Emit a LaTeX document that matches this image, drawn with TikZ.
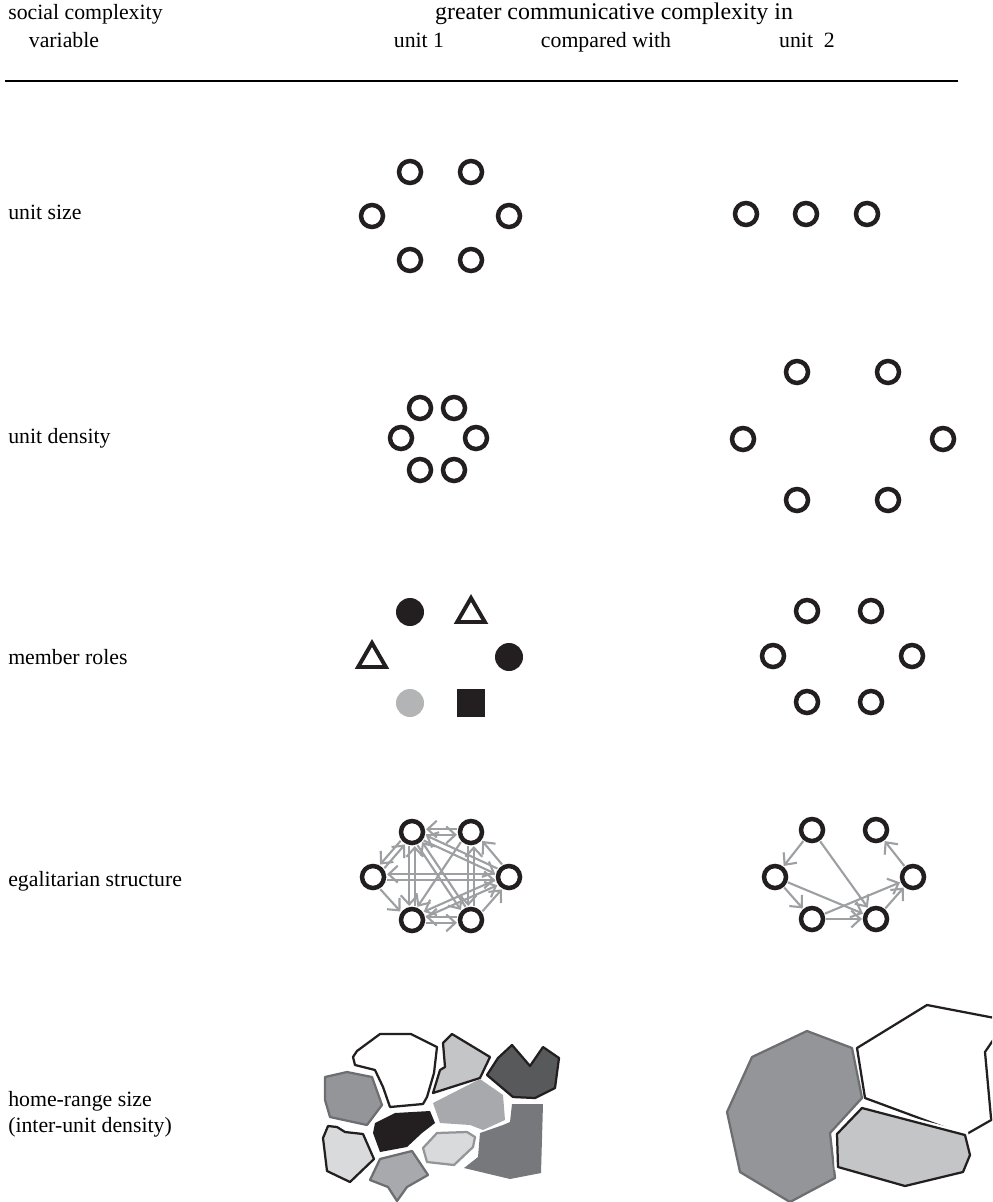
\documentclass[tikz,border=0pt]{standalone}
\usepackage{fontspec}
\setmainfont{Liberation Serif}
\usetikzlibrary{arrows.meta, shapes.geometric, calc}
\definecolor{ink}{HTML}{231F20}
\definecolor{linkgray}{HTML}{9D9FA2}
\definecolor{rolegray}{HTML}{B3B4B6}
\definecolor{paleA}{HTML}{D9DADC}
\definecolor{lightA}{HTML}{C4C5C7}
\definecolor{midA}{HTML}{A7A9AC}
\definecolor{greyA}{HTML}{939598}
\definecolor{darkA}{HTML}{77787B}
\definecolor{deepA}{HTML}{58595B}
\definecolor{edgegray}{HTML}{6D6E71}

\begin{document}
\begin{tikzpicture}[x=0.025cm, y=-0.025cm,
  member/.style={circle, draw=ink, line width=3.2pt, minimum size=0.55cm, inner sep=0pt},
  dot/.style={circle, fill=ink, minimum size=0.7cm, inner sep=0pt},
  tri/.style={regular polygon, regular polygon sides=3, draw=ink, line width=2.8pt,
              minimum size=0.8cm, inner sep=0pt},
  link/.style={draw=linkgray, line width=1.5pt, -{Straight Barb[length=6.5pt,width=12pt]},
               shorten <=10pt, shorten >=10pt},
  rowtext/.style={anchor=base west, inner sep=0pt, font=\fontsize{15.5}{19}\selectfont},
  headtext/.style={anchor=base, inner sep=0pt, font=\fontsize{15.5}{19}\selectfont},
  patch/.style={line width=1.6pt, line join=round}]
  \useasboundingbox (0,0) rectangle (992,1202);

  % Header
  \node[rowtext] (hvar) at (8,20) {social complexity};
  \node[headtext] (hvar2) at (64,48) {variable};
  \node[headtext, font=\fontsize{17}{19}\selectfont] (hcomp) at (614,20)
    {greater communicative complexity in};
  \node[headtext] (hu1) at (419,48) {unit 1};
  \node[headtext] (hcw) at (606,48) {compared with};
  \node[headtext] (hu2) at (807,48) {unit\ \ 2};
  \draw[line width=1.8pt] (5,81) -- (958,81);

  % Row labels
  \node[rowtext] (rsize) at (8,219) {unit size};
  \node[rowtext] (rdens) at (8,443) {unit density};
  \node[rowtext] (rroles) at (8,664) {member roles};
  \node[rowtext] (regal) at (8,886) {egalitarian structure};
  \node[rowtext] (rhome) at (8,1106) {home-range size};
  \node[rowtext] (rhome2) at (8,1132) {(inter-unit density)};

  % Unit size
  \foreach \x/\y [count=\i] in {410/172, 471/172, 372/216, 509/216, 410/260, 471/260}
    \node[member] (s\i) at (\x,\y) {};
  \foreach \x [count=\i] in {746, 806, 867}
    \node[member] (t\i) at (\x,214) {};

  % Unit density
  \foreach \x/\y [count=\i] in {420/408, 454/408, 401/438, 476/438, 420/470, 454/470}
    \node[member] (d\i) at (\x,\y) {};
  \foreach \x/\y [count=\i] in {797/372, 888/372, 743/439, 943/439, 797/500, 888/500}
    \node[member] (w\i) at (\x,\y) {};

  % Member roles
  \node[dot] (m1) at (410,612) {};
  \node[tri] (m2) at (471,614) {};
  \node[tri] (m3) at (372,659) {};
  \node[dot] (m4) at (509,657) {};
  \node[dot, fill=rolegray] (m5) at (410,703) {};
  \node[rectangle, fill=ink, minimum size=0.7cm, inner sep=0pt] (m6) at (471,703) {};
  \foreach \x/\y [count=\i] in {807/611, 871/611, 773/656, 912/656, 807/702, 871/702}
    \node[member] (n\i) at (\x,\y) {};

  % Egalitarian structure
  \node[member] (eTL) at (412,832) {};
  \node[member] (eTR) at (471,832) {};
  \node[member] (eL) at (373,877) {};
  \node[member] (eR) at (509,877) {};
  \node[member] (eBL) at (412,920) {};
  \node[member] (eBR) at (471,920) {};
  \foreach \a/\b in {eTR/eTL, eTL/eTR, eTL/eL, eL/eTL, eTL/eBL, eBL/eTL, eR/eTL, eTL/eR,
                     eTL/eBR, eBR/eTL, eTR/eBL, eR/eTR, eBR/eTR, eTR/eBR, eL/eR, eR/eL,
                     eL/eBL, eR/eBL, eBL/eR, eBR/eBL, eBL/eBR, eBR/eR}
    \draw[link] ($(\a)!2pt!-90:(\b)$) -- ($(\b)!2pt!90:(\a)$);

  \node[member] (rTL) at (812,830) {};
  \node[member] (rTR) at (876,830) {};
  \node[member] (rL) at (775,877) {};
  \node[member] (rR) at (913,877) {};
  \node[member] (rBL) at (812,919) {};
  \node[member] (rBR) at (876,919) {};
  \foreach \a/\b in {rTL/rL, rTL/rBR, rL/rBR, rL/rBL, rBL/rR, rBL/rBR, rBR/rR, rR/rTR}
    \draw[link] (\a.center) -- (\b.center);

  % Home ranges, unit 1
  \draw[patch, fill=white, draw=ink] (380,1034) -- (411,1034) -- (437,1047) -- (434,1073)
    -- (427,1097) -- (423,1104) -- (390,1107) -- (383,1087) -- (375,1070) -- (355,1065)
    -- (353,1057) -- (357,1051) -- cycle;
  \draw[patch, fill=lightA, draw=ink] (452,1034) -- (490,1057) -- (480,1078) -- (433,1093)
    -- (440,1070) -- (445,1067) -- (443,1043) -- cycle;
  \draw[patch, fill=deepA, draw=ink] (498,1058) -- (512,1045) -- (530,1066) -- (543,1047)
    -- (559,1058) -- (555,1088) -- (535,1098) -- (513,1097) -- (487,1075) -- cycle;
  \draw[patch, fill=greyA, draw=edgegray] (325,1077) -- (347,1072) -- (372,1077) -- (382,1105)
    -- (367,1125) -- (330,1117) -- (325,1100) -- cycle;
  \fill[ink] (375,1123) -- (395,1113) -- (430,1111) -- (435,1123) -- (422,1133)
    -- (407,1147) -- (380,1152) -- (373,1133) -- cycle;
  \fill[midA] (433,1103) -- (480,1079) -- (503,1095) -- (505,1120) -- (483,1130)
    -- (470,1125) -- (440,1123) -- cycle;
  \draw[patch, fill=paleA, draw=greyA] (423,1148) -- (437,1133) -- (467,1132) -- (475,1137)
    -- (473,1147) -- (454,1165) -- (427,1162) -- cycle;
  \fill[darkA] (512,1104) -- (543,1104) -- (541,1173) -- (510,1179) -- (464,1168)
    -- (478,1157) -- (480,1133) -- (503,1125) -- (510,1122) -- cycle;
  \draw[patch, fill=paleA, draw=ink] (328,1126) -- (337,1127) -- (345,1132) -- (363,1134)
    -- (374,1159) -- (350,1182) -- (327,1171) -- (323,1138) -- cycle;
  \draw[patch, fill=midA, draw=edgegray] (380,1159) -- (412,1151) -- (428,1175) -- (407,1187)
    -- (397,1201) -- (388,1187) -- (370,1180) -- cycle;

  % Home ranges, unit 2
  \begin{scope}
    \clip (0,0) rectangle (992,1202);
    \draw[patch, fill=greyA, draw=edgegray] (752,1057) -- (807,1031) -- (852,1048)
      -- (862,1098) -- (830,1133) -- (835,1178) -- (790,1202) -- (740,1172)
      -- (727,1112) -- cycle;
    \draw[patch, fill=white, draw=ink] (857,1048) -- (927,1005) -- (1000,1019)
      -- (1000,1115) -- (965,1135) -- (865,1098) -- cycle;
    \draw[patch, draw=ink] (1000,1030) -- (985,1052) -- (991,1118) -- (1000,1125);
    \draw[patch, fill=lightA, draw=ink, preaction={draw=white, line width=5pt}]
      (862,1108) -- (965,1135) -- (970,1155) -- (963,1172) -- (905,1186) -- (838,1167)
      -- (837,1134) -- cycle;
  \end{scope}
\end{tikzpicture}
\end{document}
